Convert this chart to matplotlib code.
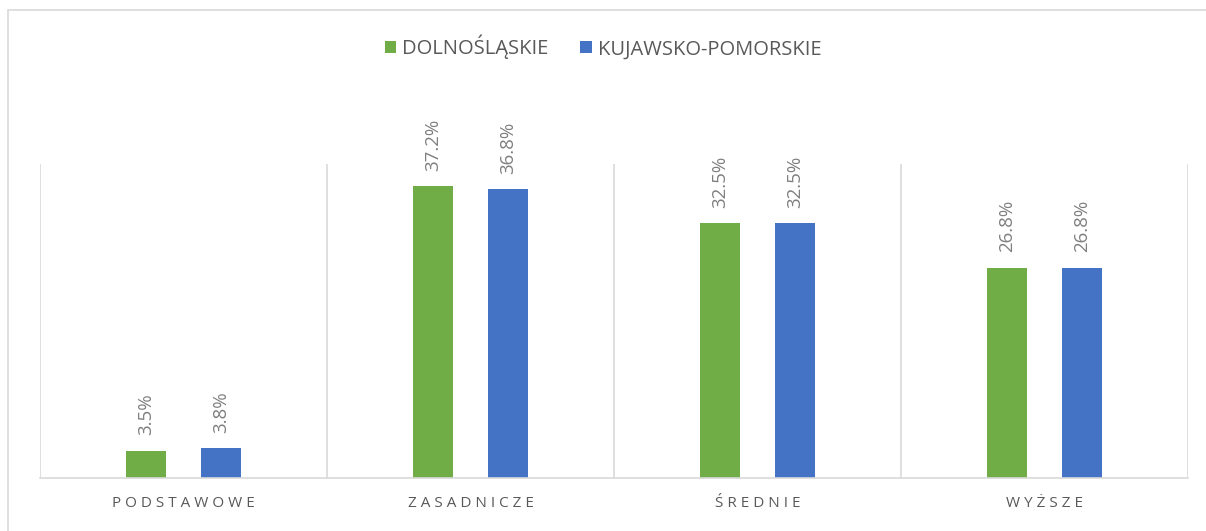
import matplotlib.pyplot as plt
import matplotlib.patches as mpatches
import numpy as np

categories = ["PODSTAWOWE", "ZASADNICZE", "ŚREDNIE", "WYŻSZE"]
dolnoslaskie = [3.5, 37.2, 32.5, 26.8]
kujawsko = [3.8, 36.8, 32.5, 26.8]
series_names = ["DOLNOŚLĄSKIE", "KUJAWSKO-POMORSKIE"]

green = "#70AD47"
blue = "#4472C4"
grid_col = "#D9D9D9"
txt_col = "#595959"

plt.rcParams['font.family'] = ['Open Sans', 'DejaVu Sans']

fig = plt.figure(figsize=(12.06, 5.31), dpi=100)
# chart frame
fig.patches.append(mpatches.Rectangle((8 / 1206, -0.05), 1.1, (531 - 10) / 531 + 0.05,
                                      transform=fig.transFigure, fill=False,
                                      edgecolor=grid_col, linewidth=1.2))
ax = fig.add_axes([40 / 1206, 53 / 531, 1148 / 1206, 314 / 531])

x = np.arange(len(categories))
w = 0.139
off = 0.13
b1 = ax.bar(x - off, dolnoslaskie, w, color=green, label=series_names[0])
b2 = ax.bar(x + off, kujawsko, w, color=blue, label=series_names[1])

for bars, vals in [(b1, dolnoslaskie), (b2, kujawsko)]:
    for rect, v in zip(bars, vals):
        ax.annotate("%.1f%%" % v, (rect.get_x() + rect.get_width() / 2, v),
                    xytext=(0, 11), textcoords="offset points", rotation=90,
                    ha="center", va="bottom", color="#7F7F7F", fontsize=13.5)

for b in np.arange(len(categories) + 1) - 0.5:
    ax.axvline(b, color=grid_col, linewidth=1.2, zorder=0)

ax.set_xlim(-0.5, len(categories) - 0.5)
ax.set_ylim(0, 40)
ax.set_yticks([])
ax.set_xticks(x)
ax.set_xticklabels([" ".join(c) for c in categories], color=txt_col, fontsize=11)
ax.tick_params(axis="x", length=0, pad=13)
for s in ["top", "right", "left"]:
    ax.spines[s].set_visible(False)
ax.spines["bottom"].set_color(grid_col)
ax.spines["bottom"].set_linewidth(1.2)

fig.legend(loc="center", bbox_to_anchor=(0.5, 1 - 47 / 531), ncol=2, frameon=False,
           fontsize=14.5, labelcolor=txt_col, handlelength=0.55, handleheight=0.55,
           handletextpad=0.3, columnspacing=1.6)

fig.savefig("out.png", dpi=100)
